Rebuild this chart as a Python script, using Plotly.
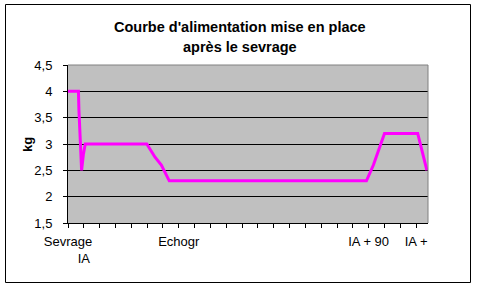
import plotly.graph_objects as go

# Data (x in days after weaning, y in kg)
days = [0, 3.3, 3.45, 3.9, 4.3, 4.85, 5.45, 24.9, 27.5, 29.5, 32, 94.3, 96.5, 100, 110.5, 113.4]
kg = [4.0, 4.0, 3.65, 3.15, 2.5, 2.8, 3.0, 3.0, 2.75, 2.6, 2.3, 2.3, 2.6, 3.2, 3.2, 2.5]

tick_days = list(range(0, 111, 5))
tick_labels = {0: "Sevrage", 5: "<br>IA", 35: "Echogr", 95: "IA + 90", 110: "IA +"}
y_ticks = [1.5, 2, 2.5, 3, 3.5, 4, 4.5]
y_labels = ["1,5", "2", "2,5", "3", "3,5", "4", "4,5"]
title_lines = ["Courbe d'alimentation mise en place", "après le sevrage"]
y_title = "kg"

W, H = 477, 289
L, R, T, B = 68, 428, 65, 223

def px_x(p):
    return (p - L) / (R - L)

def px_y(p):
    return (B - p) / (B - T)

fig = go.Figure()
fig.add_trace(go.Scatter(x=days, y=kg, mode="lines",
                         line=dict(color="#FF00FF", width=3), hoverinfo="skip"))

annotations = [
    dict(text="<b>%s</b>" % t, xref="paper", yref="paper", x=px_x(240), y=px_y(yy),
         xanchor="center", yanchor="middle", showarrow=False, font=dict(size=14.5))
    for t, yy in zip(title_lines, [27, 47])
]
annotations.append(dict(text="<b>%s</b>" % y_title, xref="paper", yref="paper",
                        x=px_x(27), y=px_y(145), xanchor="center", yanchor="middle",
                        textangle=-90, showarrow=False, font=dict(size=13)))

fig.update_layout(
    width=W, height=H,
    margin=dict(l=L, r=W - R, t=T, b=H - B),
    paper_bgcolor="white", plot_bgcolor="#C0C0C0",
    showlegend=False,
    font=dict(family="Liberation Sans, Arial", size=13, color="black"),
    annotations=annotations,
    xaxis=dict(range=[0, 113.75], tickvals=tick_days,
               ticktext=[tick_labels.get(d, "") for d in tick_days],
               tickangle=0, ticks="outside", ticklen=4, tickcolor="black",
               ticklabelstandoff=2,
               showgrid=False, zeroline=False,
               showline=True, linecolor="black", linewidth=1),
    yaxis=dict(range=[1.5, 4.5], tickvals=y_ticks, ticktext=y_labels,
               ticks="outside", ticklen=4, tickcolor="black",
               ticklabelstandoff=8,
               showgrid=True, gridcolor="black", gridwidth=1,
               zeroline=False, showline=True, linecolor="black", linewidth=1),
    shapes=[
        dict(type="line", xref="paper", yref="paper", x0=0, x1=1, y0=1, y1=1,
             line=dict(color="#808080", width=1)),
        dict(type="line", xref="paper", yref="paper", x0=1, x1=1, y0=0, y1=1,
             line=dict(color="#808080", width=1)),
        dict(type="rect", xref="paper", yref="paper",
             x0=px_x(5.5), x1=px_x(470.5), y0=px_y(282.5), y1=px_y(4.5),
             line=dict(color="black", width=1), layer="below"),
    ],
)

fig.write_html("out.html")
